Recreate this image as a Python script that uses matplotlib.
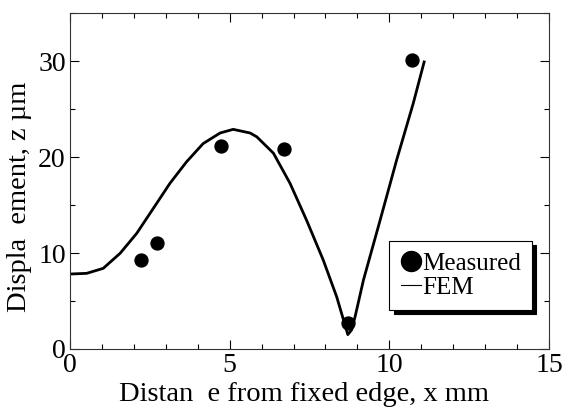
import numpy as np
import matplotlib
matplotlib.use("Agg")
import matplotlib.pyplot as plt
from matplotlib.ticker import MultipleLocator

# Measured points
x_meas = [2.21, 2.71, 4.72, 6.71, 8.72, 10.70]
z_meas = [9.3, 11.0, 21.1, 20.8, 2.67, 30.1]

# FEM curve
x_fem = [0.0, 0.52, 1.04, 1.57, 2.09, 2.61, 3.13, 3.65, 4.17, 4.70, 5.11,
         5.64, 5.85, 6.37, 6.89, 7.41, 7.93, 8.35, 8.55, 8.70, 8.82, 8.93,
         9.19, 9.71, 10.23, 10.75, 11.09]
z_fem = [7.81, 7.88, 8.4, 9.97, 12.05, 14.65, 17.26, 19.5, 21.4, 22.5, 22.88,
         22.5, 22.1, 20.4, 17.26, 13.4, 9.27, 5.45, 3.2, 1.5, 2.0, 3.4,
         7.19, 13.4, 19.7, 25.6, 29.9]

plt.rcParams['font.family'] = ['Liberation Serif', 'DejaVu Serif']

fig = plt.figure(figsize=(5.62, 4.07), dpi=100)
ax = fig.add_axes([70 / 562, 1 - 349 / 407, 479 / 562, 336 / 407])

ax.plot(x_meas, z_meas, 'o', color='black', markersize=9.3, label='Measured')
ax.plot(x_fem, z_fem, '-', color='black', linewidth=2.0, label='FEM',
        solid_joinstyle='round')

ax.set_xlim(0, 15)
ax.set_ylim(0, 35)
ax.xaxis.set_major_locator(MultipleLocator(5))
ax.xaxis.set_minor_locator(MultipleLocator(1))
ax.yaxis.set_major_locator(MultipleLocator(10))
ax.yaxis.set_minor_locator(MultipleLocator(5))
ax.set_yticks([0, 10, 20, 30])
ax.tick_params(which='both', direction='in', top=True, right=True,
               labelsize=20, pad=3)
ax.tick_params(which='major', length=6.5, width=0.8)
ax.tick_params(which='minor', length=3.6, width=0.8)
for s in ax.spines.values():
    s.set_linewidth(0.8)
    s.set_color('#333333')

ax.set_xlabel('Distan  e from fixed edge, x mm', fontsize=20.5)
ax.set_ylabel('Displa  ement, z µm', fontsize=20.5)
ax.xaxis.set_label_coords(0.489, -0.099)
ax.yaxis.set_label_coords(-0.079, 0.452)

leg = ax.legend(loc='lower right', bbox_to_anchor=(0.9645, 0.116),
                fontsize=18, frameon=True, fancybox=False,
                shadow={'color': 'black', 'alpha': 1, 'ox': 3, 'oy': -3},
                markerscale=1.55, handlelength=0.8, handletextpad=0.05,
                borderpad=0.45, labelspacing=0.05, borderaxespad=0)
leg.get_frame().set_edgecolor('black')
leg.get_frame().set_linewidth(0.8)
leg.legend_handles[1].set_linewidth(0.8)

fig.savefig('out.png', dpi=100)
